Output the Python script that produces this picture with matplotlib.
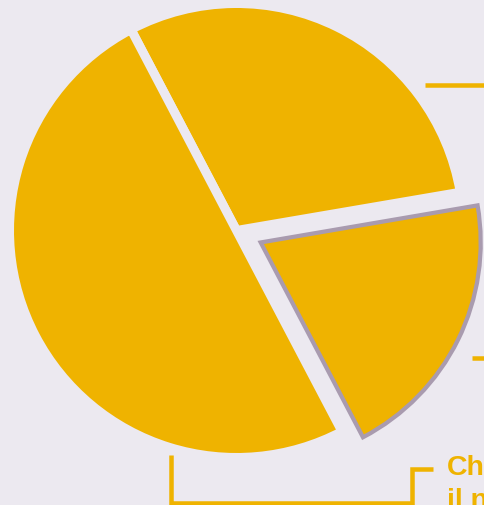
import matplotlib
matplotlib.use("Agg")
import matplotlib.pyplot as plt

# ---- data ----
categories = ["Upper slice", "Main slice", "Highlighted slice"]
values = [30, 50, 20]
highlight = [0, 0, 1]
label_text = ["Che", "il nome"]  # visible part of the label of the main slice

# ---- style ----
W, H = 484, 505
BG = "#ECE9F0"
YELLOW = "#EFB300"
PURPLE = "#A99BAF"
PX = 72 / 100  # points per pixel at dpi 100


def Y(y):
    return H - y


fig = plt.figure(figsize=(W / 100, H / 100), dpi=100, facecolor=BG)
ax = fig.add_axes([0, 0, 1, 1])
ax.set_facecolor(BG)

radius = 227
explode_px = 27
explode = [explode_px * h for h in highlight]
wedges, _ = ax.pie(values, radius=radius, center=(236.5, Y(230.5)),
                   startangle=9.7, counterclock=True, explode=explode,
                   colors=[YELLOW] * len(values),
                   wedgeprops=dict(edgecolor=BG, linewidth=9 * PX))
for w, h in zip(wedges, highlight):
    if h:
        w.set_edgecolor(PURPLE)
        w.set_linewidth(4.2 * PX)
        w.set_radius(220)
        w.set_joinstyle("miter")

# leader lines (label connectors)
lw = 4.5 * PX
ax.plot([425, W + 5], [Y(84.5), Y(84.5)], color=YELLOW, lw=lw, solid_capstyle="butt")
ax.plot([472, W + 5], [Y(357.5), Y(357.5)], color=YELLOW, lw=lw, solid_capstyle="butt")
ax.plot([170.5, 170.5, 411.5, 411.5, 433],
        [Y(455), Y(502.5), Y(502.5), Y(468.5), Y(468.5)],
        color=YELLOW, lw=lw, solid_capstyle="butt", solid_joinstyle="miter")

ax.text(447, Y(475), label_text[0], ha="left", va="baseline", color=YELLOW,
        fontsize=20.5, fontweight="bold", family="Liberation Sans")
ax.text(447, Y(508), label_text[1], ha="left", va="baseline", color=YELLOW,
        fontsize=20.5, fontweight="bold", family="Liberation Sans")

ax.set_xlim(0, W)
ax.set_ylim(0, H)
ax.set_aspect("auto")
ax.axis("off")
fig.savefig("out.png", dpi=100, facecolor=BG)
